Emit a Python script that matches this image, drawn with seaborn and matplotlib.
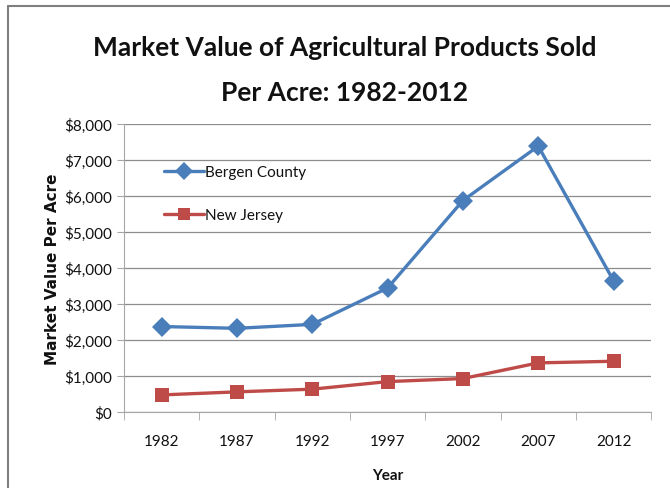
import numpy as np
import pandas as pd
import seaborn as sns
import matplotlib.pyplot as plt
from matplotlib.lines import Line2D
from matplotlib.ticker import FuncFormatter, MultipleLocator

years = [1982, 1987, 1992, 1997, 2002, 2007, 2012]
bergen = [2380, 2330, 2440, 3450, 5880, 7390, 3650]
new_jersey = [480, 565, 640, 850, 935, 1370, 1415]
series_names = ["Bergen County", "New Jersey"]
title_lines = ["Market Value of Agricultural Products Sold", "Per Acre: 1982-2012"]

df = pd.DataFrame({
    "Year": years * 2,
    "Value": bergen + new_jersey,
    "Series": [series_names[0]] * len(years) + [series_names[1]] * len(years),
})

sns.set_style("white")
plt.rcParams["font.family"] = ["Lato", "DejaVu Sans"]

fig = plt.figure(figsize=(6.7, 4.89), dpi=100)
ax = fig.add_axes([0.185, 0.155, 0.787, 0.589])

sns.lineplot(data=df, x="Year", y="Value", hue="Series", style="Series",
             markers={"Bergen County": "D", "New Jersey": "s"}, dashes=False,
             palette={"Bergen County": "#4A7EBB", "New Jersey": "#BE4B48"},
             linewidth=2.4, markersize=10, markeredgewidth=0, ax=ax)

ax.set_xlim(1979.5, 2014.5)
ax.set_ylim(0, 8000)
ax.set_xticks(years)
ax.set_xticks(np.arange(1979.5, 2015, 5), minor=True)
ax.yaxis.set_major_locator(MultipleLocator(1000))
ax.yaxis.set_major_formatter(FuncFormatter(lambda v, p: "${:,.0f}".format(v)))
ax.grid(axis="y", color="#8c8c8c", linewidth=0.9)
ax.set_axisbelow(True)

for s in ["top", "right"]:
    ax.spines[s].set_visible(False)
ax.spines["left"].set_color("#a6a6a6")
ax.spines["bottom"].set_color("#a6a6a6")
ax.tick_params(axis="x", which="major", length=0, labelsize=11, pad=16, colors="#111111")
ax.tick_params(axis="x", which="minor", length=6, color="#a6a6a6", bottom=True)
ax.tick_params(axis="y", length=5, color="#a6a6a6", left=True, labelsize=11, colors="#111111")

ax.set_xlabel("Year", fontsize=11, fontweight="bold", labelpad=14, color="#111111")
ax.set_ylabel("Market Value Per Acre", fontsize=11, fontweight="bold",
              family=["DejaVu Sans"], labelpad=3, color="#111111")

handles = [Line2D([], [], color="#4A7EBB", marker="D", markersize=9, linewidth=2.4, markeredgewidth=0),
           Line2D([], [], color="#BE4B48", marker="s", markersize=9, linewidth=2.4, markeredgewidth=0)]
ax.legend(handles, series_names, loc="upper left", bbox_to_anchor=(0.05, 0.905),
          frameon=False, fontsize=11, handlelength=2.6, handletextpad=0.1,
          labelspacing=1.9, labelcolor="#111111")

# two-line title, placed line by line
fig.text(0.515, 1 - 48 / 489, title_lines[0], ha="center", va="center",
         fontsize=19, fontweight="bold", color="#111111")
fig.text(0.515, 1 - 93 / 489, title_lines[1], ha="center", va="center",
         fontsize=19, fontweight="bold", color="#111111")

# chart frame (left and top edges visible in the crop)
fig.add_artist(Line2D([8 / 670, 8 / 670], [0, 1 - 7 / 489], transform=fig.transFigure,
                      color="#7f7f7f", linewidth=1.5))
fig.add_artist(Line2D([8 / 670, 1], [1 - 7 / 489, 1 - 7 / 489], transform=fig.transFigure,
                      color="#7f7f7f", linewidth=1.5))

fig.savefig("out.png", dpi=100, facecolor="white")
